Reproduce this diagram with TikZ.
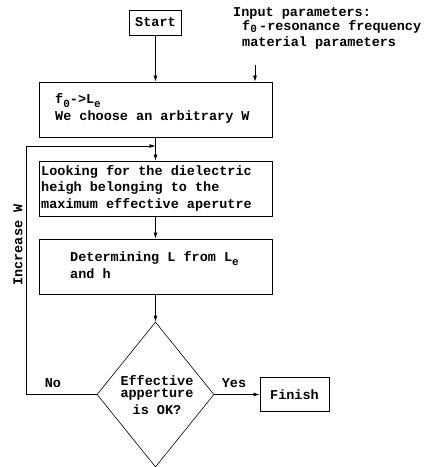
\documentclass[tikz,border=0pt]{standalone}
\usepackage{fontspec}
\setmainfont{Liberation Mono}
\usetikzlibrary{shapes.geometric,arrows.meta}
\newcommand\lowsub[1]{\raisebox{-3.5pt}{\fontsize{11}{11}\selectfont #1}}
\newcommand\lowsubb[1]{\raisebox{-2.5pt}{\fontsize{11}{11}\selectfont #1}}
\begin{document}
\begin{tikzpicture}[x=1pt,y=-1pt,
  every node/.style={font=\fontsize{13.5}{16.5}\selectfont\bfseries},
  box/.style={draw, line width=0.8pt, inner sep=0pt},
  arr/.style={-{Latex[length=6pt,width=4pt]}, line width=0.7pt},
  txt/.style={inner sep=0pt, align=left}]
\useasboundingbox (0,0) rectangle (429,467);
% boxes
\node[box, minimum width=52pt, minimum height=25pt] (start) at (155.5,22.5) {Start};
\node[box, minimum width=233pt, minimum height=55pt] (b1) at (155.5,109.5) {};
\node[txt, anchor=west] (t1) at (55,108.5) {f\lowsub{0}->L\lowsub{e}\\We choose an arbitrary W};
\node[box, minimum width=233pt, minimum height=55pt] (b2) at (155.5,188.5) {};
\node[txt, anchor=west] (t2) at (41,188) {Looking for the dielectric\\heigh belonging to the\\maximum effective aperutre};
\node[box, minimum width=233pt, minimum height=55pt] (b3) at (155.5,266.5) {};
\node[txt, anchor=west] (t3) at (70,265) {Determining L from L\lowsub{e}\\and h};
\node[diamond, draw, line width=0.6pt, inner sep=0pt, aspect=0.81, minimum width=117pt, minimum height=145pt] (d) at (155.5,394.5) {};
\node[inner sep=0pt, align=center] (dt) at (157,395) {Effective\\[-4.5pt]apperture\\[0.5pt]is OK?};
\node[box, minimum width=69pt, minimum height=34pt] (fin) at (294.5,394.5) {Finish};
% input text
\node[txt, anchor=north west, font=\fontsize{13.5}{14}\selectfont\bfseries] (inp) at (233,7) {Input parameters:\\\hspace*{9pt}f\lowsubb{0}\,-resonance frequency\\[2pt]\hspace*{9pt}material parameters};
\coordinate (ia) at (255,65);
% labels
\node[inner sep=0pt] (no) at (53,383) {No};
\node[inner sep=0pt] (yes) at (234,383) {Yes};
\node[inner sep=0pt, rotate=90] (incw) at (18,245) {Increase W};
% connectors
\draw[arr] (start.south) -- (b1.north);
\draw[arr] (ia) -- (ia |- b1.north);
\draw[arr] (b1.south) -- (b2.north);
\draw[arr] (b2.south) -- (b3.north);
\draw[arr] (b3.south) -- (d.north);
\coordinate (fl) at (26,146);
\draw[arr] (d.west) -| (fl) -- (fl -| b1.south);
\draw[arr] (d.east) -- (fin.west);
\end{tikzpicture}
\end{document}
